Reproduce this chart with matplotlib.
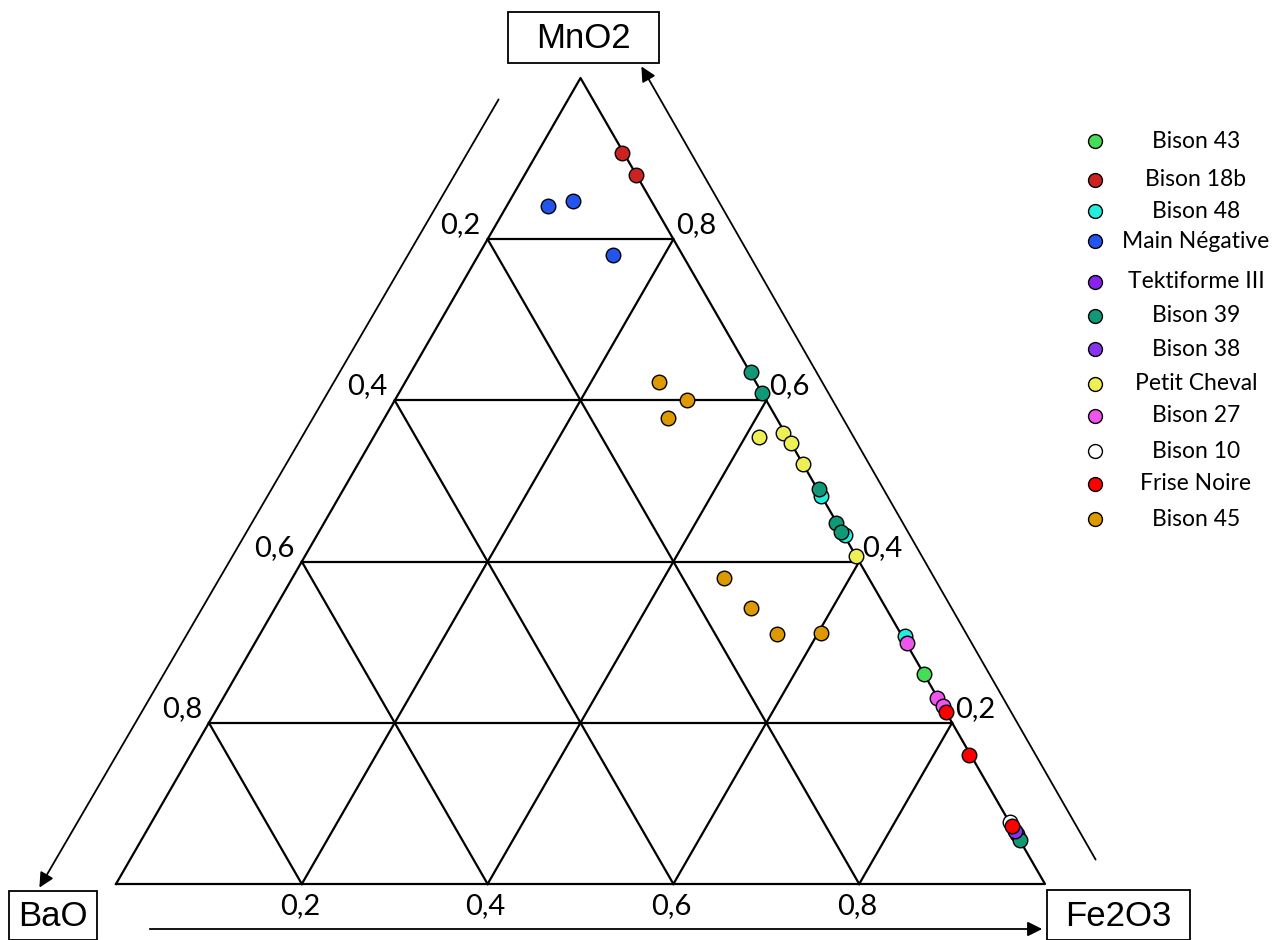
import matplotlib
matplotlib.use("Agg")
from matplotlib.pyplot import figure, savefig, close
from matplotlib.patches import Rectangle

# ---- data: Fe2O3 and MnO2 fractions per sample (BaO = 1 - Fe2O3 - MnO2) ----
sample_names = ["Bison 43", "Bison 18b", "Bison 48", "Main Négative", "Tektiforme III",
                "Bison 39", "Bison 38", "Petit Cheval", "Bison 27", "Bison 10",
                "Frise Noire", "Bison 45"]

fe2o3_values = [
    [0.740],
    [0.091, 0.120],
    [0.518, 0.568, 0.695],
    [0.045, 0.068, 0.145],
    [0.939],
    [0.366, 0.391, 0.512, 0.551, 0.562, 0.946],
    [0.935],
    [0.415, 0.438, 0.453, 0.479, 0.593],
    [0.702, 0.768, 0.780],
    [0.924],
    [0.787, 0.838, 0.929],
    [0.273, 0.315, 0.305, 0.465, 0.512, 0.556, 0.603],
]
mno2_values = [
    [0.260],
    [0.907, 0.880],
    [0.481, 0.433, 0.308],
    [0.841, 0.847, 0.780],
    [0.062],
    [0.635, 0.609, 0.490, 0.448, 0.437, 0.055],
    [0.066],
    [0.554, 0.560, 0.547, 0.521, 0.407],
    [0.299, 0.231, 0.221],
    [0.077],
    [0.213, 0.160, 0.072],
    [0.623, 0.600, 0.578, 0.380, 0.342, 0.310, 0.312],
]
grid_levels = [0.2, 0.4, 0.6, 0.8]
tick_labels = ["0,2", "0,4", "0,6", "0,8"]

# ---- styles ----
sample_colors = ["#44dd55", "#cc2222", "#22eedd", "#2255ee", "#8822ee", "#119977",
                 "#8833ee", "#eeee55", "#ee55ee", "#ffffff", "#ff0000", "#dd9900"]

# triangle corners in figure pixels (BaO, Fe2O3, MnO2)
X0, Y0 = 116.0, 884.0
WIDTH, HEIGHT = 929.0, 806.0


def tern(fe, mn):
    """Project (Fe2O3, MnO2) fractions to plot coordinates"""
    return X0 + WIDTH * (fe + mn / 2.0), Y0 - HEIGHT * mn


fig = figure(figsize=(12.87, 9.40), dpi=100)
ax = fig.add_axes([0, 0, 1, 1])
ax.set_xlim(0, 1287)
ax.set_ylim(940, 0)
ax.axis("off")

line_kw = dict(color="black", lw=1.6, zorder=1)

# outer triangle
tx, ty = zip(*[tern(0, 0), tern(1, 0), tern(0, 1), tern(0, 0)])
ax.plot(tx, ty, **line_kw)

# grid lines for each component
for v in grid_levels:
    a, b = tern(0, v), tern(1 - v, v)
    ax.plot([a[0], b[0]], [a[1], b[1]], **line_kw)
    a, b = tern(v, 0), tern(v, 1 - v)
    ax.plot([a[0], b[0]], [a[1], b[1]], **line_kw)
    a, b = tern(0, 1 - v), tern(1 - v, 0)
    ax.plot([a[0], b[0]], [a[1], b[1]], **line_kw)

tick_font = dict(family="Lato", fontsize=21, ha="center", va="center")
for v, lab in zip(grid_levels, tick_labels):
    # BaO on the left edge
    x, y = tern(0, 1 - v)
    ax.text(x - 27, y - 14, lab, **tick_font)
    # MnO2 on the right edge
    x, y = tern(1 - v, v)
    ax.text(x + 23, y - 14, lab, **tick_font)
    # Fe2O3 on the bottom edge
    x, y = tern(v, 0)
    ax.text(x - 2, y + 22, lab, **tick_font)

# component boxes
box_font = dict(family="Liberation Sans", fontsize=25, ha="center", va="center")
for (bx, by, bw, bh), name in [((508, 12, 151, 51), "MnO2"),
                               ((9, 891, 88, 49), "BaO"),
                               ((1047, 890, 143, 50), "Fe2O3")]:
    ax.add_patch(Rectangle((bx, by), bw, bh, fill=False, ec="black", lw=1.3, zorder=3))
    ax.text(bx + bw / 2, by + bh / 2 + 1, name, **box_font)

# direction arrows
arrow_kw = dict(arrowstyle="-|>", color="black", lw=1.3, mutation_scale=22)
ax.annotate("", xy=(38, 890), xytext=(500, 97), arrowprops=arrow_kw)
ax.annotate("", xy=(640, 64), xytext=(1097, 862), arrowprops=arrow_kw)
ax.annotate("", xy=(1045, 929), xytext=(147, 929), arrowprops=arrow_kw)

# samples
for name, fe, mn, col in zip(sample_names, fe2o3_values, mno2_values, sample_colors):
    xs, ys = zip(*[tern(f, m) for f, m in zip(fe, mn)])
    ax.scatter(xs, ys, s=110, c=col, edgecolors="black", linewidths=1.0, zorder=4)

# legend
legend_y = [141, 180, 211, 241, 282, 316, 349, 384, 416, 451, 484, 519]
for name, col, ly in zip(sample_names, sample_colors, legend_y):
    ax.scatter([1095], [ly], s=100, c=col, edgecolors="black", linewidths=1.0, zorder=4)
    ax.text(1196, ly, name, family="Lato", fontsize=16.5, ha="center", va="center")

savefig("out.png", dpi=100)
close()
